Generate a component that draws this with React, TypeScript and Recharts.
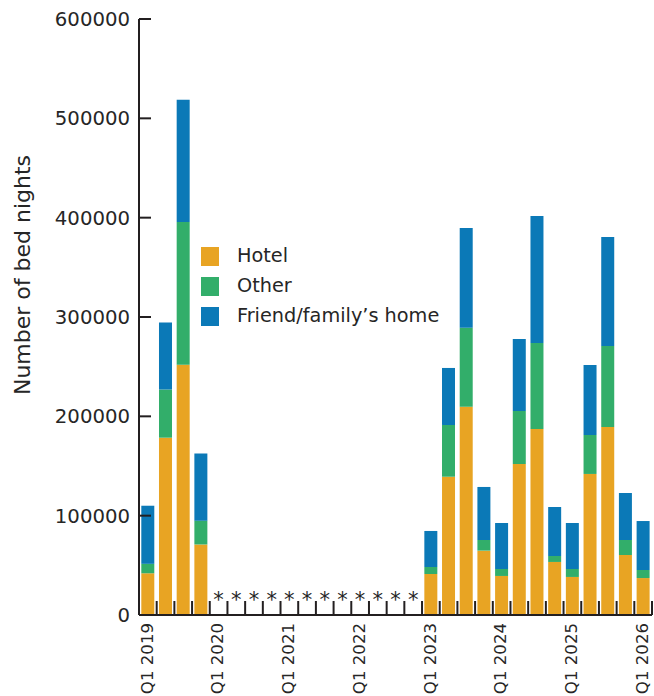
import React from 'react';
import { BarChart, Bar, XAxis, YAxis, Legend, Label } from 'recharts';

const quarters = [
  'Q1 2019', 'Q2 2019', 'Q3 2019', 'Q4 2019',
  'Q1 2020', 'Q2 2020', 'Q3 2020', 'Q4 2020',
  'Q1 2021', 'Q2 2021', 'Q3 2021', 'Q4 2021',
  'Q1 2022', 'Q2 2022', 'Q3 2022', 'Q4 2022',
  'Q1 2023', 'Q2 2023', 'Q3 2023', 'Q4 2023',
  'Q1 2024', 'Q2 2024', 'Q3 2024', 'Q4 2024',
  'Q1 2025', 'Q2 2025', 'Q3 2025', 'Q4 2025',
  'Q1 2026',
];

const hotel = [
  42000, 178500, 252000, 71000,
  null, null, null, null, null, null, null, null, null, null, null, null,
  41300, 139200, 209700, 64800,
  39300, 152000, 187300, 53400,
  38300, 142000, 189300, 60400,
  37200,
];

const other = [
  9500, 48500, 143700, 24000,
  null, null, null, null, null, null, null, null, null, null, null, null,
  7000, 52100, 79600, 10700,
  7000, 53400, 86500, 6000,
  8000, 39200, 81500, 15100,
  8100,
];

const friendFamily = [
  58500, 67500, 123000, 67500,
  null, null, null, null, null, null, null, null, null, null, null, null,
  36300, 57400, 100300, 53400,
  46300, 72500, 127900, 49300,
  46300, 70500, 109700, 47300,
  49300,
];

const suppressed = [
  false, false, false, false,
  true, true, true, true, true, true, true, true, true, true, true, true,
  false, false, false, false, false, false, false, false, false, false, false, false,
  false,
];

const yTicks = [0, 100000, 200000, 300000, 400000, 500000, 600000];

const COLORS = { hotel: '#E8A423', other: '#32AE6A', friend: '#0B79B7' };
const INK = '#231F20';
const TEXT = '#262626';
const FONT = '"DejaVu Sans", Verdana, sans-serif';

const legendItems = [
  { label: 'Hotel', color: COLORS.hotel },
  { label: 'Other', color: COLORS.other },
  { label: 'Friend/family\u2019s home', color: COLORS.friend },
];

const data = quarters.map((q, i) => ({
  quarter: q,
  hotel: hotel[i],
  other: other[i],
  friend: friendFamily[i],
}));

const XTick = (props: any) => {
  const { x, y, payload } = props;
  const idx = payload.index ?? props.index;
  const half = payload.offset || 8.85;
  const label: string = payload.value;
  return (
    <g>
      <line x1={x - half} x2={x - half} y1={y} y2={y - 14} stroke={INK} strokeWidth={2} />
      {idx === quarters.length - 1 && (
        <line x1={x + half} x2={x + half} y1={y} y2={y - 14} stroke={INK} strokeWidth={2} />
      )}
      {suppressed[idx] && (
        <text x={x} y={y - 8} textAnchor="middle" fontFamily={FONT} fontSize={21} fill={TEXT}>
          *
        </text>
      )}
      {label.startsWith('Q1') && (
        <text
          transform={`translate(${x - 1},${y + 8}) rotate(-90)`}
          textAnchor="end"
          dy="0.35em"
          fontFamily={FONT}
          fontSize={16.6}
          fill={TEXT}
        >
          {label}
        </text>
      )}
    </g>
  );
};

const YTick = (props: any) => {
  const { x, y, payload } = props;
  return (
    <g>
      <line x1={x + 9} x2={x + 21} y1={y} y2={y} stroke={INK} strokeWidth={2} />
      <text x={x} y={y} dy="0.36em" textAnchor="end" fontFamily={FONT} fontSize={19.7} fill={TEXT}>
        {payload.value}
      </text>
    </g>
  );
};

const YLabel = (props: any) => {
  const vb = props.viewBox || { x: 0, y: 19, width: 139, height: 596 };
  const cx = 22;
  const cy = vb.y + vb.height / 2 - 42;
  return (
    <text
      transform={`translate(${cx},${cy}) rotate(-90)`}
      textAnchor="middle"
      dy="0.35em"
      fontFamily={FONT}
      fontSize={22}
      fill={TEXT}
    >
      Number of bed nights
    </text>
  );
};

const renderLegend = () => (
  <div style={{ fontFamily: FONT, fontSize: 19.3, color: TEXT, lineHeight: 1 }}>
    {legendItems.map((item) => (
      <div key={item.label} style={{ display: 'flex', alignItems: 'center', height: 30 }}>
        <span style={{ display: 'inline-block', width: 18, height: 19, background: item.color, marginRight: 18 }} />
        <span style={{ whiteSpace: 'nowrap' }}>{item.label}</span>
      </div>
    ))}
  </div>
);

export default function App() {
  return (
    <div style={{ position: 'absolute', left: 0, top: 0, width: 654, height: 696, background: '#fff' }}>
      <BarChart
        width={654}
        height={696}
        data={data}
        margin={{ top: 19, right: 2, bottom: 0, left: 0 }}
        barCategoryGap="13%"
      >
        <XAxis
          dataKey="quarter"
          height={81}
          interval={0}
          tickSize={0}
          tickMargin={0}
          tickLine={false}
          axisLine={{ stroke: INK, strokeWidth: 2 }}
          tick={<XTick />}
        />
        <YAxis
          width={139}
          domain={[0, 600000]}
          ticks={yTicks}
          interval={0}
          tickSize={0}
          tickMargin={9}
          tickLine={false}
          axisLine={{ stroke: INK, strokeWidth: 2 }}
          tick={<YTick />}
        >
          <Label content={<YLabel />} />
        </YAxis>
        <Legend
          layout="vertical"
          align="center"
          verticalAlign="middle"
          content={renderLegend}
          wrapperStyle={{ position: 'absolute', left: 201, top: 241, width: 'auto' }}
        />
        <Bar dataKey="hotel" stackId="a" fill={COLORS.hotel} isAnimationActive={false} />
        <Bar dataKey="other" stackId="a" fill={COLORS.other} isAnimationActive={false} />
        <Bar dataKey="friend" stackId="a" fill={COLORS.friend} isAnimationActive={false} />
      </BarChart>
    </div>
  );
}
